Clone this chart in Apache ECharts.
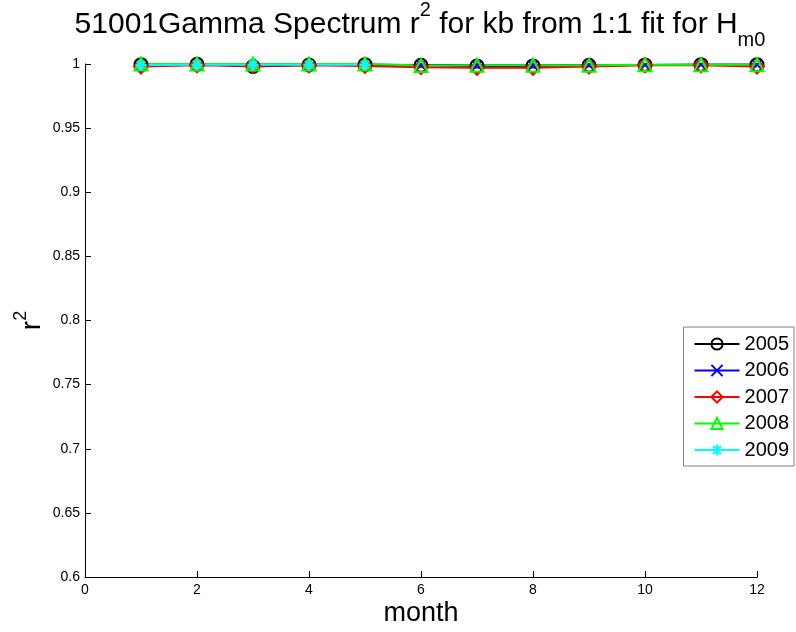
<!DOCTYPE html>
<html><head><meta charset="utf-8">
<script src="https://cdn.jsdelivr.net/npm/echarts@6/dist/echarts.min.js"></script>
<style>html,body{margin:0;padding:0;background:#fff}#c{width:796px;height:632px}</style>
</head><body><div id="c"></div>
<script>
const months = [1,2,3,4,5,6,7,8,9,10,11,12];
const months2009 = [1,2,3,4,5];
const yTicks = [0.6,0.65,0.7,0.75,0.8,0.85,0.9,0.95,1];
const xTicks = [0,2,4,6,8,10,12];
const seriesNames = ['2005','2006','2007','2008','2009'];
const r2_2005 = [0.9995,0.9998,0.998,0.9992,0.9995,0.999,0.9985,0.9985,0.999,0.9993,0.9995,0.9995];
const r2_2006 = [0.999,0.9995,0.999,0.9993,0.9995,0.9992,0.999,0.999,0.9993,0.9993,0.9995,0.9995];
const r2_2007 = [0.998,0.999,0.9985,0.999,0.9985,0.9975,0.997,0.997,0.998,0.999,0.999,0.998];
const r2_2008 = [1,1,1,1,1,0.9988,0.999,0.999,0.999,0.9995,0.9995,0.9995];
const r2_2009 = [0.9992,0.9995,0.9995,0.9995,0.9995];

const font = 'Liberation Sans, Arial, sans-serif';
const pair = (xs, ys) => xs.map((x,i)=>[x, ys[i]]);
const crossPath = 'path://M0,0L10,10M10,0L0,10';
const starPath = 'path://M5,0L5,10M0,5L10,5M1.5,1.5L8.5,8.5M8.5,1.5L1.5,8.5';
function mk(name, data, color, symbol, size){
  return {
    name, type:'line', data, symbol, symbolSize:size, showAllSymbol:true,
    lineStyle:{color, width:2},
    itemStyle:{color:'rgba(0,0,0,0)', borderColor:color, borderWidth:2},
    emphasis:{disabled:true}, z: 2
  };
}
const chart = echarts.init(document.getElementById('c'), null, {renderer:'canvas'});
chart.setOption({
  animation:false,
  backgroundColor:'#fff',
  title:{
    text:'51001Gamma Spectrum r{sup|2} for kb from 1:1 fit for H{sub|m0}',
    left:420, top:0, textAlign:'center', padding:0,
    textStyle:{
      fontFamily:font, fontSize:30, fontWeight:'normal', color:'#000', lineHeight:50,
      rich:{
        sup:{fontFamily:font, fontSize:20, color:'#000', verticalAlign:'top', lineHeight:24},
        sub:{fontFamily:font, fontSize:20, color:'#000', verticalAlign:'bottom', lineHeight:14}
      }
    }
  },
  legend:{
    orient:'vertical', right:2, top:327,
    backgroundColor:'#fff', borderColor:'#808080', borderWidth:1, padding:[7,5,6,10],
    itemWidth:45, itemHeight:14, itemGap:6.5,
    textStyle:{fontFamily:font, fontSize:20, lineHeight:20, color:'#000'},
    data: seriesNames
  },
  grid:{left:85, right:39, top:64, bottom:55, containLabel:false, outerBoundsMode:'none'},
  xAxis:{
    type:'value', min:xTicks[0], max:xTicks[xTicks.length-1], interval:2,
    name:'month', nameLocation:'middle', nameGap:23, nameMoveOverlap:false,
    nameTextStyle:{fontFamily:font, fontSize:27, color:'#000'},
    axisLine:{lineStyle:{color:'#000', width:1}},
    axisTick:{inside:true, length:6, lineStyle:{color:'#000'}},
    axisLabel:{fontFamily:font, fontSize:14, color:'#000', margin:6},
    splitLine:{show:false}
  },
  yAxis:{
    type:'value', min:yTicks[0], max:yTicks[yTicks.length-1], interval:0.05,
    name:'r{sup|2}', nameLocation:'middle', nameGap:33, nameRotate:90, nameMoveOverlap:false,
    nameTextStyle:{fontFamily:font, fontSize:28, color:'#000', lineHeight:40,
      rich:{sup:{fontFamily:font, fontSize:18, color:'#000', verticalAlign:'top', lineHeight:22}}},
    axisLine:{show:true, lineStyle:{color:'#000', width:1}},
    axisTick:{show:true, inside:true, length:6, lineStyle:{color:'#000'}},
    axisLabel:{fontFamily:font, fontSize:14, color:'#000', margin:5},
    splitLine:{show:false}
  },
  series:[
    mk('2005', pair(months, r2_2005), '#000000', 'circle', 13),
    mk('2006', pair(months, r2_2006), '#0000ff', crossPath, 9),
    mk('2007', pair(months, r2_2007), '#ff0000', 'diamond', 14),
    mk('2008', pair(months, r2_2008), '#00ff00', 'triangle', 13),
    mk('2009', pair(months2009, r2_2009), '#00ffff', starPath, 11)
  ]
});
</script></body></html>
